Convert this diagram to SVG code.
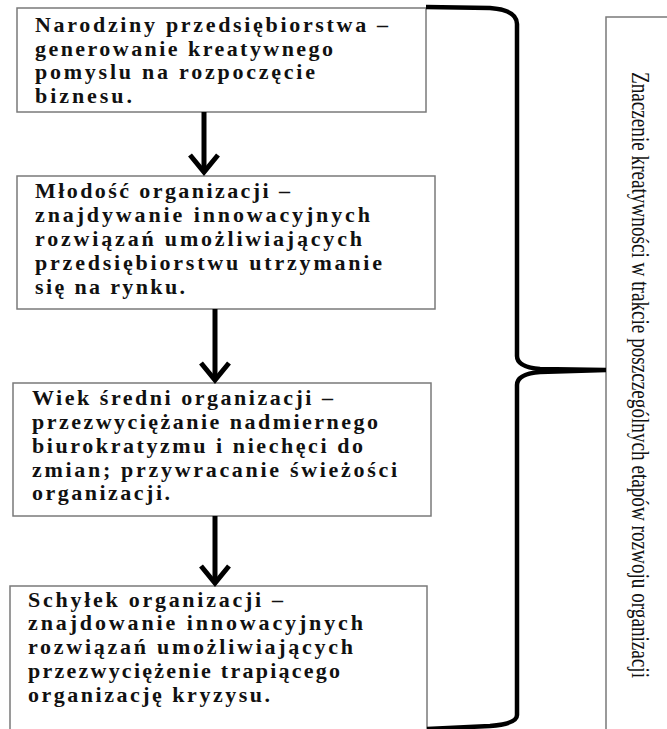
<svg xmlns="http://www.w3.org/2000/svg" width="667" height="729" viewBox="0 0 667 729">
<style>
.box{fill:#fff;stroke:#7a7a7a;stroke-width:1.5}
.t{font-family:"Liberation Serif","DejaVu Serif","Times New Roman",serif;font-weight:bold;font-size:22px;fill:#111}
.v{font-family:"Liberation Serif","DejaVu Serif","Times New Roman",serif;font-size:26px;fill:#111}
.conn{stroke:#000;stroke-width:5;fill:none}
.brace{stroke:#000;stroke-width:4.5;fill:none}
</style>
<defs>
<marker id="chev" markerUnits="userSpaceOnUse" markerWidth="26" markerHeight="36" viewBox="0 0 26 36" refX="21" refY="18" orient="auto" overflow="visible">
<path d="M 4 4 L 21 18 L 4 32" fill="none" stroke="#000" stroke-width="5"/>
</marker>
</defs>
<rect width="667" height="729" fill="#fff"/>
<g id="n1">
<rect class="box" x="17" y="8" width="409" height="104"/>
<text class="t"><tspan x="35" y="32" textLength="353" lengthAdjust="spacing">Narodziny przedsiębiorstwa –</tspan><tspan x="35" y="55.5" textLength="298" lengthAdjust="spacing">generowanie kreatywnego</tspan><tspan x="35" y="79" textLength="280" lengthAdjust="spacing">pomyslu na rozpoczęcie</tspan><tspan x="35" y="103" textLength="97" lengthAdjust="spacing">biznesu.</tspan></text>
</g>
<g id="n2">
<rect class="box" x="17" y="176" width="418" height="133"/>
<text class="t"><tspan x="35" y="198" textLength="255" lengthAdjust="spacing">Młodość organizacji –</tspan><tspan x="35" y="222" textLength="335" lengthAdjust="spacing">znajdywanie innowacyjnych</tspan><tspan x="35" y="246" textLength="327" lengthAdjust="spacing">rozwiązań umożliwiających</tspan><tspan x="35" y="270" textLength="347" lengthAdjust="spacing">przedsiębiorstwu utrzymanie</tspan><tspan x="35" y="294" textLength="150" lengthAdjust="spacing">się na rynku.</tspan></text>
</g>
<g id="n3">
<rect class="box" x="13" y="383" width="418" height="133"/>
<text class="t"><tspan x="32" y="405" textLength="301" lengthAdjust="spacing">Wiek średni organizacji –</tspan><tspan x="32" y="429" textLength="346" lengthAdjust="spacing">przezwyciężanie nadmiernego</tspan><tspan x="32" y="453" textLength="331" lengthAdjust="spacing">biurokratyzmu i niechęci do</tspan><tspan x="32" y="477" textLength="365" lengthAdjust="spacing">zmian; przywracanie świeżości</tspan><tspan x="32" y="500" textLength="138" lengthAdjust="spacing">organizacji.</tspan></text>
</g>
<g id="n4">
<rect class="box" x="10" y="586" width="417" height="170"/>
<text class="t"><tspan x="28" y="607" textLength="255" lengthAdjust="spacing">Schyłek organizacji –</tspan><tspan x="28" y="630" textLength="335" lengthAdjust="spacing">znajdowanie innowacyjnych</tspan><tspan x="28" y="654" textLength="325" lengthAdjust="spacing">rozwiązań umożliwiających</tspan><tspan x="28" y="678" textLength="312" lengthAdjust="spacing">przezwyciężenie trapiącego</tspan><tspan x="28" y="702" textLength="242" lengthAdjust="spacing">organizację kryzysu.</tspan></text>
</g>
<g id="n5">
<rect class="box" x="606" y="17" width="90" height="740"/>
<text class="v" transform="translate(632,72) rotate(90)" x="0" y="0" textLength="606" lengthAdjust="spacingAndGlyphs">Znaczenie kreatywności w trakcie poszczególnych etapów rozwoju organizacji</text>
</g>
<g id="connectors">
<line class="conn" x1="204" y1="112" x2="204" y2="172" marker-end="url(#chev)"/>
<line class="conn" x1="215" y1="309" x2="215" y2="380" marker-end="url(#chev)"/>
<line class="conn" x1="215" y1="516" x2="215" y2="583" marker-end="url(#chev)"/>
<path class="brace" d="M 426 7 L 490 8 Q 517 10 517 24 L 517 356 Q 517 367 540 369 L 606 370 M 606 370 L 540 372 Q 517 374 517 385 L 517 715 Q 517 724 490 726 L 427 729"/>
</g>
</svg>
